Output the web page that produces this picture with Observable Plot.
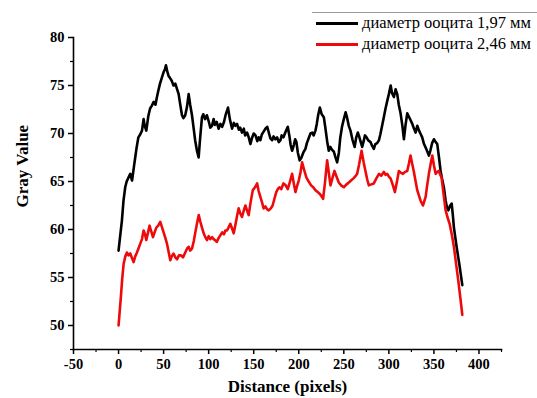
<!DOCTYPE html>
<html>
<head>
<meta charset="utf-8">
<script src="https://cdn.jsdelivr.net/npm/d3@7"></script>
<script src="https://cdn.jsdelivr.net/npm/@observablehq/plot@0.6"></script>
<style>
  html, body { margin: 0; padding: 0; background: #fff; }
  #wrap { position: relative; width: 537px; height: 398px; overflow: hidden; }
  #legend { position: absolute; left: 0; top: 0; width: 537px; height: 60px; font-family: "Liberation Serif", "Times New Roman", serif; font-size: 16.5px; color: #000; }
  .topline { position: absolute; left: 312px; top: 12px; width: 225px; border-top: 1px solid #9a9a9a; }
  .item { position: absolute; left: 316px; height: 20px; display: flex; align-items: center; }
  .swatch { width: 42px; height: 3px; margin-right: 4px; }
  .lbl { white-space: nowrap; }
</style>
</head>
<body>
<div id="wrap"></div>
<script>
// ---- data ----
const legendLabels = ["диаметр ооцита 1,97 мм", "диаметр ооцита 2,46 мм"];
const seriesColors = ["#000000", "#ee0a0a"];

const distance1 = [0,2,3.7,5.5,7.4,9,11,13,15,17,18.5,20,22,24,26,27.8,29,30.8,33,35,37,39,41,42.6,44,46,48,50,51.5,52.6,54,55.5,57,59,61,63,65,66.7,68.5,70.4,72,74,76,77.8,79.5,81.5,83,85,87,88.9,90.5,92.6,94,96,98,100,101.8,103.7,105.5,107,109,111,113,115,117,119,121.5,123.5,126,128,129.5,131.5,133.5,135,137,139,140.5,142.6,144.5,146.3,148,150,152,154,155.5,157.4,159,161,163,165,167,168.5,170.4,172,174,176,177.8,179.7,181,183,185.5,187.8,189.5,191,192.6,194.5,196,197.4,199,201,203,205,207.4,209,211,213,215,216.5,218.5,220,221.5,223.4,225.5,227.8,229.5,231.5,233.3,235,237,239,240.5,242.6,244.5,246,248,250,252,253.5,255.5,257.4,259.5,262,263.8,265.6,267,268.5,270.4,272,273.5,275.2,277,279.7,281.5,283.3,285,287,289,290.5,292.5,294.4,296.3,298.2,300,302,303.5,305.6,307.5,309.3,311,313,315,316.7,318.5,320.4,322,324,326,327.5,329.7,331.5,333.5,335,337,339,341,342.8,344.4,346,348,350,352,353.7,355.5,357.4,359,361,363,364.5,366,368,369.7,371,372.2,374,375.5,377,378.5,380,381.5];
const gray1 = [57.8,59.5,60.9,63.0,64.4,65.0,65.4,65.8,65.1,66.5,67.5,68.5,69.6,69.9,70.3,71.5,70.8,70.3,71.8,72.6,72.9,73.3,73.0,73.8,74.4,75.2,75.8,76.4,76.7,77.1,76.5,76.0,75.8,75.5,75.0,75.2,74.6,74.1,73.0,71.9,71.6,71.9,72.8,74.1,73.0,71.9,70.8,69.3,68.2,67.5,69.5,71.7,72.0,71.5,71.9,71.3,70.6,70.8,71.5,70.9,71.2,70.5,71.0,70.7,71.2,72.0,72.7,71.5,70.5,71.1,70.8,71.0,70.4,70.6,70.1,70.5,69.8,70.1,69.6,68.9,69.5,70.0,69.8,69.2,69.6,69.3,69.9,70.2,70.5,70.7,70.0,69.5,69.3,69.7,69.4,69.6,69.1,69.3,69.8,69.6,70.2,70.7,69.8,68.8,68.2,68.8,69.4,69.1,68.0,67.2,67.5,68.0,68.4,69.0,69.5,70.0,70.1,69.8,70.3,71.0,71.9,72.7,72.0,71.7,70.6,69.2,68.2,68.6,68.3,68.1,67.6,67.0,68.0,69.5,70.7,71.5,72.2,71.7,70.8,70.3,69.4,68.6,69.6,70.1,69.7,69.2,68.6,69.2,69.8,69.6,69.3,69.1,68.7,68.4,68.9,69.0,69.3,69.9,70.8,71.7,72.6,73.4,74.1,75.0,74.2,73.8,74.6,74.1,73.0,72.1,70.8,69.4,70.9,72.1,71.8,71.4,71.0,70.6,70.1,70.8,70.3,70.0,69.6,68.9,68.5,68.1,67.7,68.2,69.0,69.4,69.1,68.9,67.6,66.1,65.3,64.4,63.0,62.3,62.0,62.5,62.7,61.5,60.2,59.0,58.0,57.1,56.2,55.2,54.2];

const distance2 = [0,1.3,2.6,4,5.6,7.5,9.3,11,13,15,16.7,18.5,20.4,22,24,26,27.8,29.3,30.8,32.5,34.4,36.3,38.2,40,41.9,44,46.3,48,50,52,53.8,55.5,57.4,59,61,63,65,67,69.3,71.5,74,76,77.8,79.5,81.5,83.5,85.2,87,89,90.8,92.6,94.5,96.3,98.2,100,101.8,103.8,105.5,107,109,111,113,115,117,118.5,120.4,122,124,126,127.8,129.5,131.5,133.3,135,137,139,140.8,142.5,144.4,146.5,149,151.5,153.8,155.5,157.4,159.3,161,163,165,166.7,169,171,173,175,176.7,178.5,180.5,183,185.5,187.8,190,192.6,194.5,196.3,198,200,202,203.7,206,208.5,211,213.7,216,218.5,221,223.4,225,227,229,231.5,233.5,235.2,237.5,239.6,242,244.4,247,250,253,255.6,258,260.4,262.5,264.8,267,269.7,272,274,276,277.8,280.5,283.3,286,289,291.5,294.4,296.3,298.2,300,302,304.5,306.7,309,311.1,313.5,315.6,318,320.4,322.3,324,326,327.8,329.7,331.5,333.5,335.2,337.8,340.8,342.5,344.4,346.3,348.2,350,351.9,353.7,355.6,357,358.5,360.8,363,365,367.4,370,372.2,374.5,377,379.3,381.5];
const gray2 = [50.0,51.5,53.0,54.8,56.4,57.2,57.6,57.3,57.5,57.0,56.6,57.2,57.6,58.0,58.5,59.0,59.9,59.5,58.9,59.6,60.4,59.8,59.2,59.7,60.2,60.4,60.8,60.3,59.7,59.1,58.5,57.7,56.8,57.2,57.5,57.1,56.9,57.3,57.3,57.1,57.6,58.0,58.2,57.8,58.0,58.8,59.7,60.6,61.5,60.8,60.2,59.6,59.2,58.9,59.3,59.0,59.2,59.0,58.9,58.7,59.1,59.4,59.7,59.5,59.9,59.9,60.2,60.6,60.1,59.6,60.4,61.4,62.2,61.7,61.3,62.0,62.5,62.0,61.5,62.8,64.1,64.4,64.8,64.0,63.4,62.8,62.2,62.4,62.1,62.0,62.2,62.5,63.2,63.9,64.2,64.4,64.2,64.8,64.6,64.2,64.9,65.8,64.8,63.9,64.5,65.1,66.0,67.0,66.2,65.4,65.0,64.6,64.4,64.1,63.9,63.7,63.5,63.2,64.8,67.2,65.8,64.6,65.4,66.1,65.5,64.9,64.6,64.4,64.7,64.9,65.1,65.3,65.5,65.8,66.8,68.2,67.0,66.1,65.2,64.6,64.7,64.8,65.3,65.8,65.6,66.0,65.7,65.8,65.5,65.3,64.6,63.9,65.0,66.1,65.9,65.8,66.0,66.1,66.9,67.7,66.8,66.0,65.0,64.1,63.5,63.0,62.5,63.4,64.6,65.8,66.8,67.7,66.7,65.8,66.0,66.1,65.7,65.4,63.6,62.0,61.3,60.6,59.4,58.2,56.5,54.7,52.9,51.1];

const xTicks = [-50,0,50,100,150,200,250,300,350,400];
const xMinorTicks = [-25,25,75,125,175,225,275,325,375,425];
const yTicks = [50,55,60,65,70,75,80];
const yMinorTicks = [47.5,52.5,57.5,62.5,67.5,72.5,77.5];
const xTitle = "Distance (pixels)";
const yTitle = "Gray Value";

// ---- build ----
const s1 = distance1.map((d, i) => ({x: d, y: gray1[i]}));
const s2 = distance2.map((d, i) => ({x: d, y: gray2[i]}));

const chart = Plot.plot({
  width: 537,
  height: 398,
  marginLeft: 73,
  marginRight: 36,
  marginTop: 37,
  marginBottom: 49,
  x: {domain: [-50, 425]},
  y: {domain: [47.5, 80]},
  style: {fontFamily: "'Liberation Serif', 'Times New Roman', serif", fontSize: "14.5px", fontWeight: "bold", color: "#000", background: "#fff"},
  marks: [
    Plot.line(s1, {x: "x", y: "y", stroke: seriesColors[0], strokeWidth: 2.6, strokeLinejoin: "round"}),
    Plot.line(s2, {x: "x", y: "y", stroke: seriesColors[1], strokeWidth: 2.6, strokeLinejoin: "round"}),
    Plot.frame({anchor: "left", strokeWidth: 1.6}),
    Plot.frame({anchor: "bottom", strokeWidth: 1.6}),
    Plot.axisX({ticks: xTicks, tickSize: 5, tickPadding: 4, tickFormat: d => String(d), label: null, strokeWidth: 1.5}),
    Plot.axisX({ticks: xMinorTicks, tickSize: 3, text: null, label: null, strokeWidth: 1.2}),
    Plot.axisY({ticks: yTicks, tickSize: 5, tickPadding: 4, tickFormat: d => String(d), label: null, strokeWidth: 1.5}),
    Plot.axisY({ticks: yMinorTicks, tickSize: 3, text: null, label: null, strokeWidth: 1.2}),
    Plot.text([yTitle], {frameAnchor: "left", text: d => d, rotate: -90, dx: -51, dy: 14, fontSize: 17, fontWeight: "bold"}),
    Plot.text([xTitle], {frameAnchor: "bottom", text: d => d, dy: 42, fontSize: 17, fontWeight: "bold"})
  ]
});

const wrap = document.getElementById("wrap");
wrap.appendChild(chart);

const legend = document.createElement("div");
legend.id = "legend";
legend.innerHTML = '<div class="topline"></div>';
legendLabels.forEach((lab, i) => {
  const it = document.createElement("div");
  it.className = "item";
  it.style.top = (13 + i * 21) + "px";
  it.innerHTML = '<div class="swatch" style="background:' + seriesColors[i] + '"></div><span class="lbl"></span>';
  it.querySelector(".lbl").textContent = lab;
  legend.appendChild(it);
});
wrap.appendChild(legend);
</script>
</body>
</html>
